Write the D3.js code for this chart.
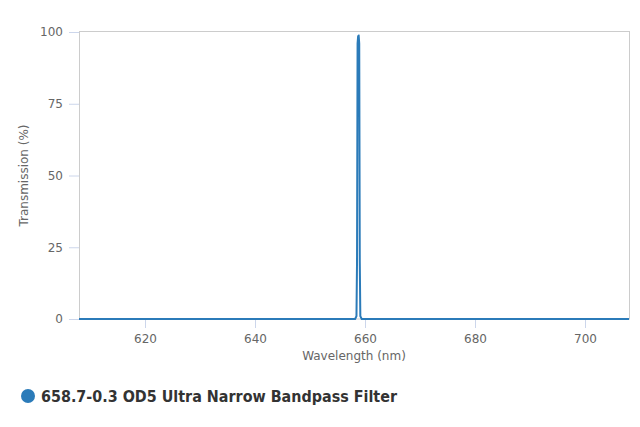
<!DOCTYPE html>
<html>
<head>
<meta charset="utf-8">
<script src="https://cdn.jsdelivr.net/npm/d3@7"></script>
<style>
  body { margin: 0; background: #fff; }
  .tick text { fill: #666; font-family: "DejaVu Sans", sans-serif; font-size: 12px; }
  .axis-label { fill: #666; font-family: "DejaVu Sans", sans-serif; font-size: 12px; }
</style>
</head>
<body>
<div id="chart"></div>
<script>
// CONST and GLOBALS
const width = 640, height = 427;
const margin = { top: 32, right: 11, bottom: 108, left: 79 };

const seriesName = "658.7-0.3 OD5 Ultra Narrow Bandpass Filter";
const xTicks = [620, 640, 660, 680, 700];
const yTicks = [0, 25, 50, 75, 100];

// wavelength (nm) and transmission (%)
const wavelength = [608, 650, 658.2, 658.45, 658.55, 658.65, 658.75, 658.85, 658.95, 659.05, 659.15, 659.4, 667, 708];
const transmission = [0, 0, 0, 1, 20, 96, 98.5, 98.8, 96, 20, 1, 0, 0, 0];

const data = wavelength.map((w, i) => ({ w: w, t: transmission[i] }));

const svg = d3.select("#chart").append("svg")
  .attr("width", width)
  .attr("height", height);

// SCALES
const x = d3.scaleLinear()
  .domain([608, 708])
  .range([margin.left, width - margin.right]);

const y = d3.scaleLinear()
  .domain([0, 100])
  .range([height - margin.bottom, margin.top]);

// plot frame
svg.append("rect")
  .attr("x", margin.left + 0.5)
  .attr("y", margin.top - 0.5)
  .attr("width", width - margin.right - margin.left)
  .attr("height", height - margin.bottom - margin.top + 0.5)
  .attr("fill", "none")
  .attr("stroke", "#ccc");

// AXES
const xAxis = svg.append("g")
  .attr("transform", `translate(0,${height - margin.bottom})`)
  .call(d3.axisBottom(x).tickValues(xTicks).tickSize(9).tickPadding(6));
xAxis.select(".domain").remove();
xAxis.selectAll(".tick line").attr("stroke", "#ccd6eb");

const yAxis = svg.append("g")
  .attr("transform", `translate(${margin.left},0)`)
  .call(d3.axisLeft(y).tickValues(yTicks).tickSize(10).tickPadding(6));
yAxis.select(".domain").remove();
yAxis.selectAll(".tick line").attr("stroke", "#ccd6eb");

svg.append("text")
  .attr("class", "axis-label")
  .attr("x", (margin.left + width - margin.right) / 2)
  .attr("y", 360)
  .attr("text-anchor", "middle")
  .text("Wavelength (nm)");

svg.append("text")
  .attr("class", "axis-label")
  .attr("transform", `translate(28,${(margin.top + height - margin.bottom) / 2}) rotate(-90)`)
  .attr("text-anchor", "middle")
  .text("Transmission (%)");

// LINE
const line = d3.line()
  .x(d => x(d.w))
  .y(d => y(d.t));

svg.append("path")
  .datum(data)
  .attr("fill", "none")
  .attr("stroke", "#2b7bb9")
  .attr("stroke-width", 2)
  .attr("stroke-linejoin", "round")
  .attr("d", line);

// LEGEND
svg.append("circle")
  .attr("cx", 28)
  .attr("cy", 396)
  .attr("r", 7)
  .attr("fill", "#2b7bb9");

svg.append("text")
  .attr("x", 41)
  .attr("y", 402)
  .attr("fill", "#333")
  .attr("font-family", "'DejaVu Sans', sans-serif")
  .attr("font-weight", "bold")
  .attr("font-size", 15)
  .attr("textLength", 356)
  .attr("lengthAdjust", "spacingAndGlyphs")
  .text(seriesName);
</script>
</body>
</html>
